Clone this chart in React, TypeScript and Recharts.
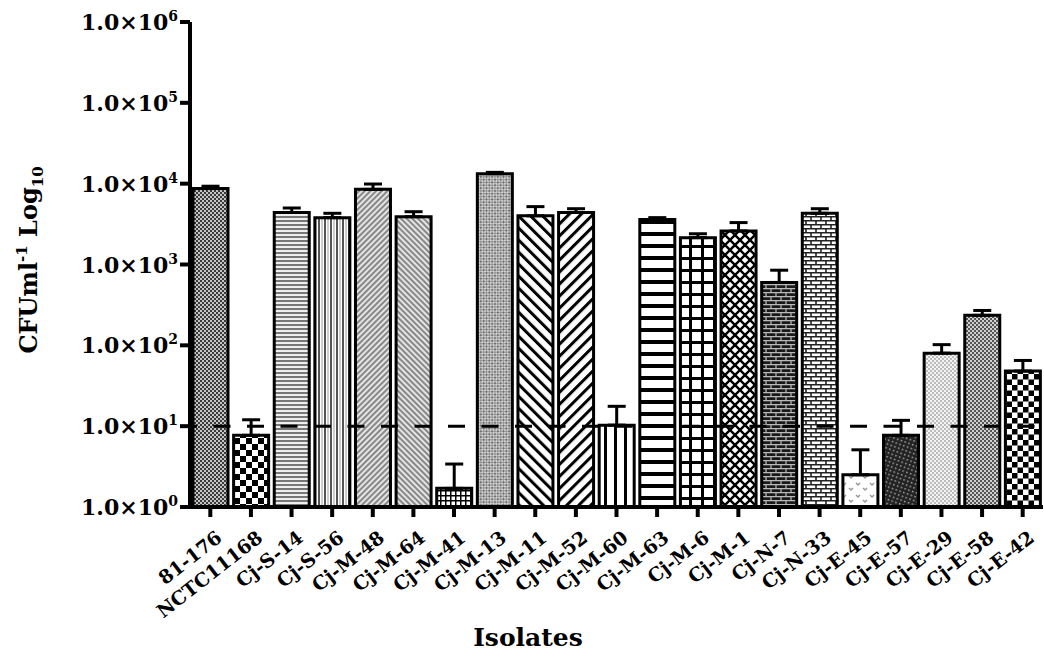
import React from "react";
import { Bar, BarChart, Cell, ErrorBar, ReferenceLine, XAxis, YAxis } from "recharts";

const isolates = [
  "81-176", "NCTC11168", "Cj-S-14", "Cj-S-56", "Cj-M-48", "Cj-M-64", "Cj-M-41",
  "Cj-M-13", "Cj-M-11", "Cj-M-52", "Cj-M-60", "Cj-M-63", "Cj-M-6", "Cj-M-1",
  "Cj-N-7", "Cj-N-33", "Cj-E-45", "Cj-E-57", "Cj-E-29", "Cj-E-58", "Cj-E-42",
];
const cfu = [8700, 7.7, 4400, 3800, 8500, 3900, 1.7, 13300, 4000, 4400, 10.3, 3600, 2150, 2600, 600, 4300, 2.5, 7.7, 80, 235, 48];
const sem = [600, 4.3, 600, 500, 1400, 600, 1.7, 500, 1200, 500, 7.3, 200, 250, 700, 250, 600, 2.6, 4.1, 22, 35, 17];
const yTicks = [1, 10, 100, 1000, 10000, 100000, 1000000];
const detectionLimit = 10;

const data = isolates.map((name, i) => ({ name, value: cfu[i], err: [0, sem[i]] }));

const FONT = "'DejaVu Serif', serif";

// one fill pattern per isolate, roughly like the GraphPad hatches
const patterns = [
  <pattern key="p0" id="p0" width="4" height="4" patternUnits="userSpaceOnUse">
    <rect width="4" height="4" fill="#c4c4c4" />
    <rect width="2" height="2" fill="#3a3a3a" />
    <rect x="2" y="2" width="2" height="2" fill="#3a3a3a" />
  </pattern>,
  <pattern key="p1" id="p1" width="12" height="12" patternUnits="userSpaceOnUse">
    <rect width="12" height="12" fill="#fff" />
    <rect width="6" height="6" fill="#000" />
    <rect x="6" y="6" width="6" height="6" fill="#000" />
  </pattern>,
  <pattern key="p2" id="p2" width="4" height="4" patternUnits="userSpaceOnUse">
    <rect width="4" height="4" fill="#eee" />
    <rect width="4" height="2" fill="#777" />
  </pattern>,
  <pattern key="p3" id="p3" width="6" height="6" patternUnits="userSpaceOnUse">
    <rect width="6" height="6" fill="#fff" />
    <rect width="2" height="6" fill="#555" />
    <rect x="3.5" width="1" height="6" fill="#999" />
  </pattern>,
  <pattern key="p4" id="p4" width="4" height="4" patternUnits="userSpaceOnUse" patternTransform="rotate(45)">
    <rect width="4" height="4" fill="#e4e4e4" />
    <rect width="2" height="4" fill="#888" />
  </pattern>,
  <pattern key="p5" id="p5" width="4" height="4" patternUnits="userSpaceOnUse" patternTransform="rotate(-45)">
    <rect width="4" height="4" fill="#e4e4e4" />
    <rect width="2" height="4" fill="#888" />
  </pattern>,
  <pattern key="p6" id="p6" width="5" height="5" patternUnits="userSpaceOnUse">
    <rect width="5" height="5" fill="#fff" />
    <rect width="5" height="1.5" fill="#000" />
    <rect width="1.5" height="5" fill="#000" />
  </pattern>,
  <pattern key="p7" id="p7" width="4" height="4" patternUnits="userSpaceOnUse" patternTransform="rotate(45)">
    <rect width="4" height="4" fill="#d0d0d0" />
    <rect width="2" height="2" fill="#707070" />
    <rect x="2" y="2" width="2" height="2" fill="#909090" />
  </pattern>,
  <pattern key="p8" id="p8" width="8.5" height="8.5" patternUnits="userSpaceOnUse" patternTransform="rotate(-45)">
    <rect width="8.5" height="8.5" fill="#fff" />
    <rect width="3" height="8.5" fill="#000" />
  </pattern>,
  <pattern key="p9" id="p9" width="8.5" height="8.5" patternUnits="userSpaceOnUse" patternTransform="rotate(45)">
    <rect width="8.5" height="8.5" fill="#fff" />
    <rect width="3" height="8.5" fill="#000" />
  </pattern>,
  <pattern key="p10" id="p10" width="10" height="10" patternUnits="userSpaceOnUse">
    <rect width="10" height="10" fill="#fff" />
    <rect x="4" width="3" height="10" fill="#000" />
  </pattern>,
  <pattern key="p11" id="p11" width="12" height="12" patternUnits="userSpaceOnUse">
    <rect width="12" height="12" fill="#fff" />
    <rect y="4" width="12" height="4" fill="#000" />
  </pattern>,
  <pattern key="p12" id="p12" width="12" height="12" patternUnits="userSpaceOnUse">
    <rect width="12" height="12" fill="#fff" />
    <rect y="5" width="12" height="3" fill="#000" />
    <rect x="5" width="3" height="12" fill="#000" />
  </pattern>,
  <pattern key="p13" id="p13" width="10" height="10" patternUnits="userSpaceOnUse">
    <rect width="10" height="10" fill="#fff" />
    <path d="M0 0 L10 10 M10 0 L0 10 M-5 5 L5 -5 M5 15 L15 5 M-5 5 L5 15 M5 -5 L15 5" stroke="#000" strokeWidth="2.4" />
  </pattern>,
  <pattern key="p14" id="p14" width="10" height="8" patternUnits="userSpaceOnUse">
    <rect width="10" height="8" fill="#1a1a1a" />
    <path d="M0 0.6 H10 M0 4.6 H10 M1 0 V4 M6 4 V8" stroke="#bbb" strokeWidth="1.2" />
  </pattern>,
  <pattern key="p15" id="p15" width="10" height="8" patternUnits="userSpaceOnUse">
    <rect width="10" height="8" fill="#fff" />
    <path d="M0 0.8 H10 M0 4.8 H10 M1 0 V4 M6 4 V8" stroke="#222" strokeWidth="1.6" />
  </pattern>,
  <pattern key="p16" id="p16" width="14" height="12" patternUnits="userSpaceOnUse">
    <rect width="14" height="12" fill="#fff" />
    <path d="M2 3 L4 5 L6 3 M9 8 L11 10 L13 8" stroke="#999" strokeWidth="1.5" fill="none" />
  </pattern>,
  <pattern key="p17" id="p17" width="4" height="4" patternUnits="userSpaceOnUse" patternTransform="rotate(20)">
    <rect width="4" height="4" fill="#222" />
    <rect x="1" y="1" width="1.5" height="1.5" fill="#aaa" />
  </pattern>,
  <pattern key="p18" id="p18" width="4" height="4" patternUnits="userSpaceOnUse">
    <rect width="4" height="4" fill="#f4f4f4" />
    <rect width="2" height="2" fill="#bbb" />
    <rect x="2" y="2" width="2" height="2" fill="#bbb" />
  </pattern>,
  <pattern key="p19" id="p19" width="4" height="4" patternUnits="userSpaceOnUse">
    <rect width="4" height="4" fill="#d0d0d0" />
    <rect width="2" height="2" fill="#555" />
    <rect x="2" y="2" width="2" height="2" fill="#555" />
  </pattern>,
  <pattern key="p20" id="p20" width="11" height="11" patternUnits="userSpaceOnUse">
    <rect width="11" height="11" fill="#fff" />
    <rect width="5.5" height="5.5" fill="#000" />
    <rect x="5.5" y="5.5" width="5.5" height="5.5" fill="#000" />
  </pattern>,
];

const YTick = ({ x, y, payload }: any) => {
  const exp = Math.round(Math.log10(payload.value));
  return (
    <text x={x} y={y + 8} textAnchor="end" fontFamily={FONT} fontWeight={700} fontSize={22} fill="#000">
      1.0×10
      <tspan dy={-9} fontSize={14}>{exp}</tspan>
    </text>
  );
};

const XTick = ({ x, y, payload }: any) => {
  const ax = x + 13;
  const ay = y + 21;
  return (
    <text x={ax} y={ay} transform={`rotate(-38 ${ax} ${ay})`} textAnchor="end" fontFamily={FONT} fontWeight={700} fontSize={19} fill="#000">
      {payload.value}
    </text>
  );
};

const YTitle = () => (
  <text x={37} y={260} transform="rotate(-90 37 260)" textAnchor="middle" fontFamily={FONT} fontWeight={700} fontSize={24} fill="#000">
    CFUml
    <tspan dy={-10} fontSize={15}>-1</tspan>
    <tspan dy={10}> Log</tspan>
    <tspan dy={6} fontSize={15}>10</tspan>
  </text>
);

const XTitle = () => (
  <text x={528} y={646} textAnchor="middle" fontFamily={FONT} fontWeight={700} fontSize={25} fill="#000">
    Isolates
  </text>
);

export default function App() {
  return (
    <div style={{ position: "absolute", left: 0, top: 0, background: "#fff" }}>
      <BarChart width={1044} height={652} data={data} margin={{ top: 22, right: 1, left: 0, bottom: 0 }}>
        <defs>{patterns}</defs>
        <XAxis
          dataKey="name"
          interval={0}
          height={145}
          tickSize={10}
          tick={<XTick />}
          axisLine={{ stroke: "#000", strokeWidth: 4 }}
          tickLine={{ stroke: "#000", strokeWidth: 4 }}
          label={{ content: () => <XTitle /> }}
        />
        <YAxis
          type="number"
          scale="log"
          domain={[1, 1000000]}
          ticks={yTicks}
          width={190}
          tickSize={10}
          tick={<YTick />}
          axisLine={{ stroke: "#000", strokeWidth: 4 }}
          tickLine={{ stroke: "#000", strokeWidth: 4 }}
          label={{ content: () => <YTitle /> }}
        />
        <Bar dataKey="value" barSize={35} stroke="#000" strokeWidth={3} isAnimationActive={false}>
          {data.map((d, i) => (
            <Cell key={d.name} fill={`url(#p${i})`} stroke="#000" strokeWidth={3} />
          ))}
          <ErrorBar dataKey="err" direction="y" width={9} stroke="#000" strokeWidth={3} isAnimationActive={false} />
        </Bar>
        <ReferenceLine
          y={detectionLimit}
          stroke="#000"
          strokeWidth={3}
          strokeDasharray="17 16.5"
          strokeDashoffset={10}
          zIndex={1000}
        />
      </BarChart>
    </div>
  );
}
